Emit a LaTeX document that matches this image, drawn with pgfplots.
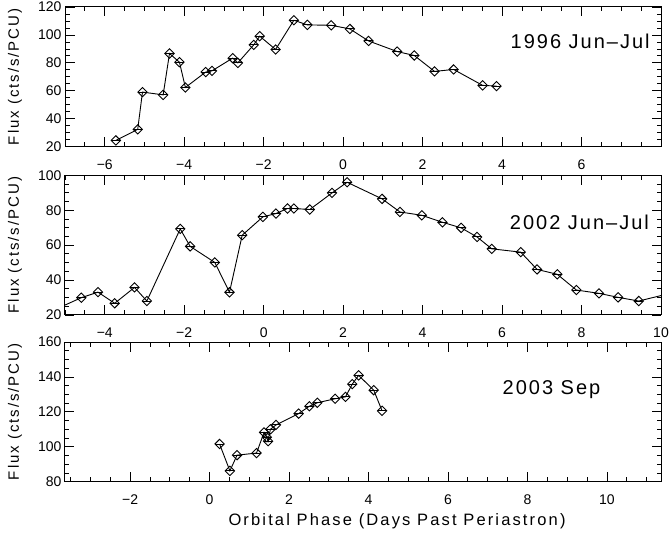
\documentclass[border=0pt]{standalone}
\usepackage{fontspec}
\setmainfont{Liberation Sans}
\newfontfamily\idlfont[LetterSpace=13]{Liberation Sans}
\newfontfamily\idlann[LetterSpace=10]{Liberation Sans}
\usepackage{pgfplots}
\pgfplotsset{compat=1.18}
\begin{document}
\begin{tikzpicture}
\useasboundingbox (0pt,0pt) rectangle (670pt,536pt);
\pgfplotsset{
  curve/.style={black, line width=0.9pt, mark=square, mark size=3.3pt,
      mark options={rotate=45, line width=0.9pt, solid, black},
      error bars/.cd, x dir=both, x fixed=0.11, error mark=none,
      error bar style={line width=0.9pt, black}},
  panel/.style={
    scale only axis, width=596pt, height=139.7pt, anchor=south west,
    /pgf/number format/assume math mode=true,
    axis line style={line width=1pt},
    every tick/.style={line width=0.8pt, black},
    major tick length=9.5pt, minor tick length=4.5pt,
    tick align=inside,
    minor y tick num=3,
    tick label style={font=\fontsize{14}{16}\selectfont},
    xticklabel style={anchor=center, yshift=-18pt},
    ylabel={\idlfont Flux (cts/s/PCU)},
    ylabel style={at={(axis description cs:-0.0839,0.5)}, anchor=center, rotate=0, font=\fontsize{15}{17}\selectfont},
  }
}
% ---------- 1996 ----------
\begin{axis}[panel, at={(65pt,389.3pt)},
  xmin=-7, xmax=8, ymin=20, ymax=120,
  xtick={-6,-4,-2,0,2,4,6}, xticklabels={−6,−4,−2,0,2,4,6},
  minor xtick={-6.5,-6,...,7.5},
  ytick={20,40,60,80,100,120}]
\addplot[curve] coordinates {
(-5.72,24.5) (-5.17,32.4) (-5.05,59.1) (-4.53,57.1) (-4.37,86.7) (-4.12,80.5)
(-3.97,62.4) (-3.46,73.4) (-3.30,74.3) (-2.78,83.4) (-2.65,80.0) (-2.25,92.9)
(-2.10,99.1) (-1.70,89.6) (-1.24,110.5) (-0.90,107.2) (-0.30,106.9) (0.17,104.3)
(0.64,95.7) (1.36,88.1) (1.79,85.3) (2.30,73.9) (2.78,75.3) (3.51,63.9) (3.86,63.4)
};
\node[anchor=east, inner sep=0pt, font=\fontsize{20}{22}\selectfont\idlann] at (axis cs:7.72,95.5) {1996 Jun–Jul};
\end{axis}
% ---------- 2002 ----------
\begin{axis}[panel, at={(65pt,221pt)},
  xmin=-5, xmax=10, ymin=20, ymax=100,
  xtick={-4,-2,0,2,4,6,8,10}, xticklabels={−4,−2,0,2,4,6,8,10},
  minor xtick={-5,-4.5,...,10},
  ytick={20,40,60,80,100}]
\addplot[curve] coordinates {
(-5.3,22.6) (-4.59,29.9) (-4.17,33.1) (-3.75,26.7) (-3.25,35.8) (-2.94,28.0)
(-2.10,69.3) (-1.85,59.3) (-1.23,50.1) (-0.86,33.0) (-0.54,65.7) (-0.02,76.2)
(0.31,78.1) (0.60,81.0) (0.76,81.0) (1.16,80.4) (1.72,89.9) (2.10,96.0)
(2.98,86.5) (3.43,79.0) (3.98,77.1) (4.50,73.1) (4.97,69.9) (5.37,64.7)
(5.74,57.9) (6.47,56.0) (6.88,46.1) (7.39,43.3) (7.87,34.3) (8.44,32.4)
(8.92,30.1) (9.44,28.0) (10.3,32.8)
};
\node[anchor=east, inner sep=0pt, font=\fontsize{20}{22}\selectfont\idlann] at (axis cs:9.70,73.3) {2002 Jun–Jul};
\end{axis}
% ---------- 2003 ----------
\begin{axis}[panel, at={(65pt,54.3pt)},
  xmin=-3.64, xmax=11.36, ymin=80, ymax=160,
  xtick={-2,0,2,4,6,8,10}, xticklabels={−2,0,2,4,6,8,10},
  minor xtick={-3.5,-3,...,11},
  ytick={80,100,120,140,160},
  xlabel={\idlfont Orbital Phase (Days Past Periastron)},
  xlabel style={at={(axis description cs:0.5571,0)}, anchor=center, yshift=-40pt, font=\fontsize{16.5}{18}\selectfont}]
\addplot[curve] coordinates {
(0.25,101.6) (0.51,86.2) (0.69,95.2) (1.18,96.4) (1.37,108.2) (1.44,105.5)
(1.47,103.2) (1.53,110.0) (1.67,112.5) (2.24,119.0) (2.51,123.2) (2.71,125.2)
(3.16,127.5) (3.42,128.6) (3.59,135.9) (3.75,140.9) (4.13,132.4) (4.34,120.6)
};
\node[anchor=west, inner sep=0pt, font=\fontsize{20}{22}\selectfont\idlann] at (axis cs:7.37,132.9) {2003 Sep};
\end{axis}
\end{tikzpicture}
\end{document}
